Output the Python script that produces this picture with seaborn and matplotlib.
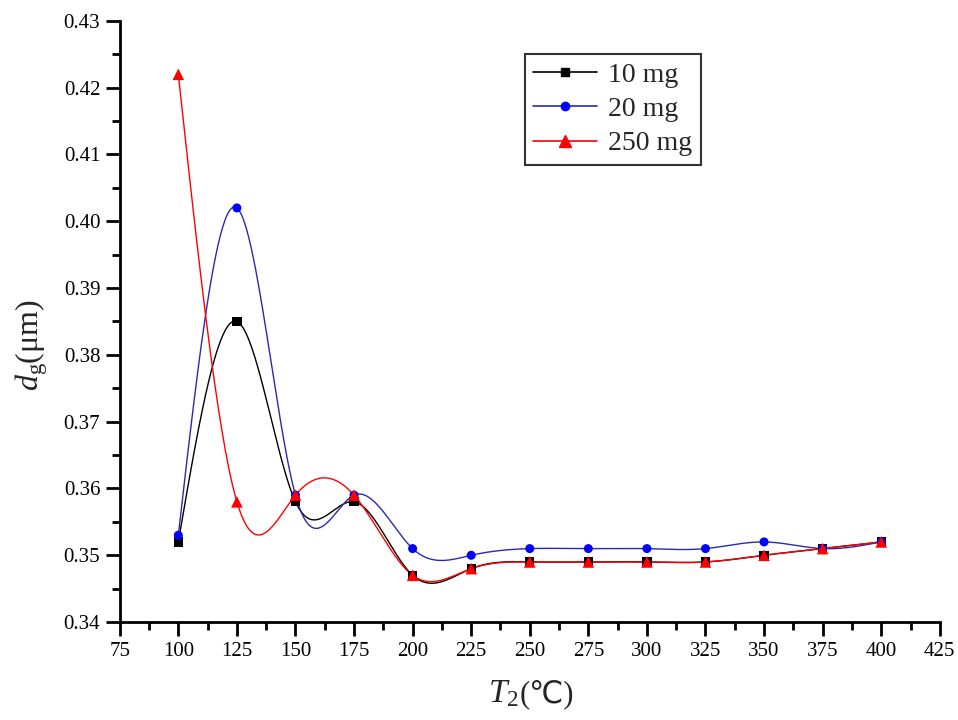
import numpy as np
import pandas as pd
import matplotlib
matplotlib.use("Agg")
import matplotlib.pyplot as plt
from matplotlib.lines import Line2D
from matplotlib.ticker import MultipleLocator, FormatStrFormatter
import seaborn as sns

# ---- data ----
temps = [100, 125, 150, 175, 200, 225, 250, 275, 300, 325, 350, 375, 400]
d_10mg = [0.352, 0.385, 0.358, 0.358, 0.347, 0.348, 0.349, 0.349, 0.349, 0.349, 0.350, 0.351, 0.352]
d_20mg = [0.353, 0.402, 0.359, 0.359, 0.351, 0.350, 0.351, 0.351, 0.351, 0.351, 0.352, 0.351, 0.352]
d_250mg = [0.422, 0.358, 0.359, 0.359, 0.347, 0.348, 0.349, 0.349, 0.349, 0.349, 0.350, 0.351, 0.352]
series_names = ["10 mg", "20 mg", "250 mg"]

sns.set_theme(style="ticks")
plt.rcParams["font.family"] = ["Liberation Serif", "DejaVu Sans"]
plt.rcParams["mathtext.fontset"] = "custom"
plt.rcParams["mathtext.rm"] = "Liberation Serif"
plt.rcParams["mathtext.it"] = "Liberation Serif:italic"
plt.rcParams["mathtext.fallback"] = "stix"


def natural_spline(x, y, xs):
    x = np.asarray(x, float)
    y = np.asarray(y, float)
    n = len(x)
    h = np.diff(x)
    A = np.zeros((n, n))
    b = np.zeros(n)
    A[0, 0] = 1
    A[-1, -1] = 1
    for i in range(1, n - 1):
        A[i, i - 1] = h[i - 1]
        A[i, i] = 2 * (h[i - 1] + h[i])
        A[i, i + 1] = h[i]
        b[i] = 6 * ((y[i + 1] - y[i]) / h[i] - (y[i] - y[i - 1]) / h[i - 1])
    M = np.linalg.solve(A, b)
    idx = np.clip(np.searchsorted(x, xs) - 1, 0, n - 2)
    x0, x1 = x[idx], x[idx + 1]
    hh = x1 - x0
    t0 = x1 - xs
    t1 = xs - x0
    return (M[idx] * t0 ** 3 / (6 * hh) + M[idx + 1] * t1 ** 3 / (6 * hh)
            + (y[idx] / hh - M[idx] * hh / 6) * t0
            + (y[idx + 1] / hh - M[idx + 1] * hh / 6) * t1)


fig = plt.figure(figsize=(9.58, 7.2), dpi=100)
ax = fig.add_axes([0.125, 0.136, 0.856, 0.835])

pts = pd.DataFrame({"T": temps * 3,
                    "d": d_10mg + d_20mg + d_250mg,
                    "s": [n for n in series_names for _ in temps]})
xs = np.linspace(temps[0], temps[-1], 600)
curves = pd.DataFrame({
    "T": np.concatenate([xs] * 3),
    "d": np.concatenate([natural_spline(temps, v, xs) for v in (d_10mg, d_20mg, d_250mg)]),
    "s": [n for n in series_names for _ in xs],
})

line_colors = {"10 mg": "#000000", "20 mg": "#2a2ab0", "250 mg": "#ff0000"}
marker_colors = {"10 mg": "#000000", "20 mg": "#0000ff", "250 mg": "#ff0000"}
markers = {"10 mg": "s", "20 mg": "o", "250 mg": "^"}
msizes = {"10 mg": 45, "20 mg": 42, "250 mg": 70}

sns.lineplot(data=curves, x="T", y="d", hue="s", palette=line_colors, lw=1.0,
             legend=False, ax=ax, sort=False, estimator=None)
for name in series_names:
    sub = pts[pts["s"] == name]
    sns.scatterplot(data=sub, x="T", y="d", color=marker_colors[name], marker=markers[name],
                    s=msizes[name], edgecolor="none", legend=False, ax=ax, zorder=3)

ax.set_xlim(75, 425)
ax.set_ylim(0.34, 0.43)
ax.xaxis.set_major_locator(MultipleLocator(25))
ax.xaxis.set_minor_locator(MultipleLocator(12.5))
ax.yaxis.set_major_locator(MultipleLocator(0.01))
ax.yaxis.set_minor_locator(MultipleLocator(0.005))
ax.yaxis.set_major_formatter(FormatStrFormatter("%.2f"))
for s in ("top", "right"):
    ax.spines[s].set_visible(False)
for s in ("left", "bottom"):
    ax.spines[s].set_linewidth(2.0)
    ax.spines[s].set_color("black")
ax.tick_params(which="major", direction="out", length=10, width=2.0, labelsize=15, colors="black", pad=4)
ax.tick_params(which="minor", direction="out", length=6, width=2.0, colors="black")

ax.set_xlabel("")
ax.set_ylabel(r"$d_{\mathrm{g}}$(μm)", fontsize=23)
ax.yaxis.set_label_coords(-0.085, 0.46)

# x label: italic T with subscript, followed by (℃) from a font that has the glyph
fig.text(0.542, 0.025, r"$T_2$", fontsize=24, ha="right", va="baseline")
fig.text(0.542, 0.025, "(℃)", fontsize=22, ha="left", va="baseline",
         family=["Liberation Serif", "DejaVu Sans"])

handles = [Line2D([0], [0], color=line_colors[n], lw=1.2, marker=markers[n],
                  markerfacecolor=marker_colors[n], markeredgecolor=marker_colors[n],
                  markersize={"10 mg": 6, "20 mg": 6, "250 mg": 8}[n]) for n in series_names]
leg = ax.legend(handles, series_names, loc="upper left", bbox_to_anchor=(0.494, 0.945),
                fontsize=20, frameon=True, fancybox=False, edgecolor="black",
                handlelength=2.3, handletextpad=0.4, borderpad=0.3, labelspacing=0.32,
                borderaxespad=0)
leg.get_frame().set_linewidth(1.5)

fig.savefig("out.png", dpi=100, facecolor="white")
